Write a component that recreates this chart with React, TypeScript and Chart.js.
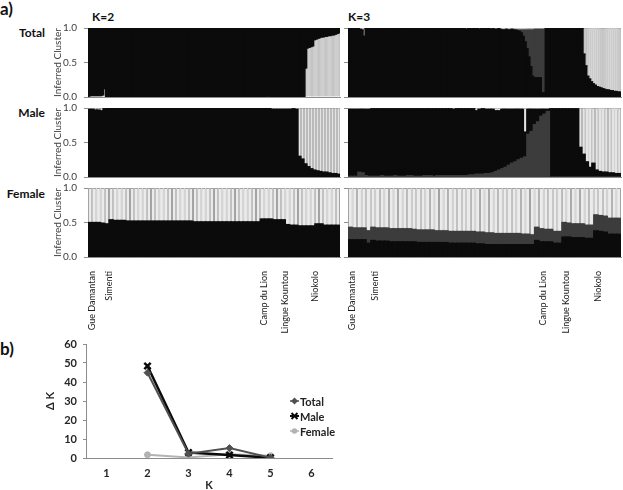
import React, { useEffect, useRef } from 'react';
import { Chart, registerables } from 'chart.js';
Chart.register(...registerables);

const FONT = 'Lato, "Open Sans", sans-serif';

// ---------- Site labels (x axis of the Female panels) ----------
const SITES = ['Gue Damantan', 'Simenti', 'Camp du Lion', 'Lingue Kountou', 'Niokolo'];
const SITE_BARS_K2 = [0, 4, 41, 46, 53];
const SITE_BARS_K3 = [0, 5, 42, 47, 54];

// ---------- STRUCTURE membership values (percent), bottom segments ----------
// Total, K=2 : light cluster (bottom); black on top
const TOTAL_K2_LIGHT = [
  1, 2, 2, 2, 2, 2, 2, 2, 3, 12, 0, 0,
  0, 0, 0, 0, 0, 0, 0, 0, 0, 0, 0, 0,
  0, 0, 0, 0, 0, 0, 0, 0, 0, 0, 0, 0,
  0, 0, 0, 0, 0, 0, 0, 0, 0, 0, 0, 0,
  0, 0, 0, 0, 0, 0, 0, 0, 0, 0, 0, 0,
  0, 0, 0, 0, 0, 0, 0, 0, 0, 0, 0, 0,
  0, 0, 0, 0, 0, 0, 0, 0, 0, 0, 0, 0,
  0, 0, 0, 0, 0, 0, 0, 0, 0, 0, 0, 0,
  0, 0, 0, 0, 0, 0, 1, 1, 0, 0, 0, 0,
  0, 0, 0, 0, 0, 0, 0, 0, 0, 0, 0, 0,
  0, 0, 0, 0, 42, 71, 72, 73, 74, 83, 84, 85,
  86, 87, 87, 88, 88, 89, 89, 90, 90, 91, 92, 93,
];
// Male, K=2 : black (bottom); light on top
const MALE_K2_BLACK = [
  98, 98, 97, 97, 96, 99, 100, 100, 100, 100, 100, 100,
  100, 100, 100, 100, 100, 100, 100, 100, 100, 100, 100, 100,
  100, 100, 100, 100, 100, 100, 100, 100, 100, 100, 100, 100,
  100, 100, 100, 100, 100, 100, 100, 100, 100, 100, 100, 100,
  100, 100, 100, 100, 100, 100, 100, 100, 100, 100, 100, 100,
  100, 98, 98, 98, 98, 98, 98, 98, 99, 98, 30, 26,
  19, 15, 12, 10, 9, 8, 7, 7, 6, 5, 5, 4,
];
// Female, K=2 : black (bottom); light on top
const FEMALE_K2_BLACK = [
  50, 50, 50, 49, 48, 54, 53, 53, 53, 52, 52, 52,
  52, 52, 52, 52, 52, 52, 52, 52, 52, 52, 52, 52,
  52, 51, 51, 51, 51, 51, 51, 51, 51, 51, 51, 51,
  51, 51, 51, 51, 51, 55, 55, 55, 54, 54, 54, 47,
  46, 46, 45, 45, 45, 45, 48, 48, 46, 46, 46, 46,
];
// Total, K=3 : black (bottom), dark (middle); light on top
const TOTAL_K3_BLACK = [
  99, 99, 99, 99, 99, 99, 98, 97, 88, 99, 99, 99,
  99, 99, 100, 100, 99, 99, 99, 100, 100, 99, 99, 99,
  100, 100, 99, 99, 99, 99, 100, 100, 99, 99, 99, 99,
  99, 100, 100, 99, 99, 99, 99, 99, 100, 100, 99, 99,
  99, 99, 99, 99, 100, 99, 99, 99, 99, 99, 99, 99,
  99, 99, 98, 99, 99, 99, 99, 99, 99, 98, 99, 99,
  99, 99, 99, 98, 99, 98, 98, 99, 98, 97, 97, 98,
  97, 97, 98, 97, 97, 96, 95, 93, 88, 80, 70, 58,
  44, 30, 28, 28, 28, 28, 6, 6, 99, 99, 99, 99,
  99, 99, 99, 99, 99, 99, 99, 99, 100, 100, 100, 100,
  100, 100, 100, 100, 62, 45, 30, 26, 22, 19, 17, 15,
  14, 13, 12, 11, 10, 10, 9, 9, 8, 8, 7, 7,
];
const TOTAL_K3_DARK = [
  0, 0, 0, 0, 0, 0, 0, 0, 0, 0, 0, 0,
  0, 0, 0, 0, 0, 0, 0, 0, 0, 0, 0, 0,
  0, 0, 0, 0, 0, 0, 0, 0, 0, 0, 0, 0,
  0, 0, 0, 0, 0, 0, 0, 0, 0, 0, 0, 0,
  0, 0, 0, 0, 0, 0, 0, 0, 0, 0, 0, 0,
  0, 0, 0, 0, 0, 0, 0, 0, 0, 0, 0, 0,
  0, 0, 0, 0, 0, 0, 0, 0, 0, 0, 0, 0,
  0, 0, 0, 0, 0, 1, 2, 4, 9, 17, 27, 39,
  53, 67, 70, 70, 70, 70, 92, 92, 0, 0, 0, 0,
  0, 0, 0, 0, 0, 0, 0, 0, 0, 0, 0, 0,
  0, 0, 0, 0, 0, 0, 0, 0, 0, 0, 0, 0,
  0, 0, 0, 0, 0, 0, 0, 0, 0, 0, 0, 0,
];
// Male, K=3 : dark (bottom), black (middle); light on top
const MALE_K3_DARK = [
  1, 1, 1, 7, 6, 2, 1, 1, 1, 1, 2, 1,
  1, 1, 2, 1, 1, 1, 2, 2, 1, 1, 1, 2,
  2, 2, 1, 2, 2, 2, 2, 2, 2, 2, 2, 2,
  2, 3, 3, 4, 4, 4, 5, 5, 6, 8, 10, 12,
  14, 17, 20, 22, 25, 27, 29, 62, 66, 76, 80, 88,
  91, 95, 0, 0, 0, 0, 0, 0, 0, 0, 0, 0,
  0, 0, 0, 0, 0, 0, 0, 0, 0, 0, 0, 0,
];
const MALE_K3_BLACK = [
  97, 97, 97, 91, 92, 96, 97, 98, 98, 98, 97, 98,
  98, 98, 97, 98, 98, 98, 97, 97, 98, 98, 98, 97,
  97, 97, 98, 97, 97, 97, 97, 97, 96, 97, 97, 97,
  97, 96, 96, 92, 94, 95, 93, 93, 92, 88, 86, 86,
  84, 81, 78, 76, 73, 71, 36, 36, 32, 22, 18, 10,
  7, 3, 99, 99, 99, 99, 99, 99, 99, 99, 99, 43,
  33, 22, 14, 20, 10, 8, 7, 7, 6, 6, 5, 5,
];
// Female, K=3 : black (bottom), dark (middle); light on top
const FEMALE_K3_BLACK = [
  25, 25, 25, 25, 20, 24, 23, 23, 23, 22, 22, 22,
  22, 22, 22, 21, 21, 21, 21, 21, 21, 21, 20, 20,
  20, 20, 20, 20, 19, 19, 18, 18, 18, 18, 18, 18,
  18, 18, 18, 18, 18, 24, 22, 22, 22, 20, 20, 29,
  29, 28, 28, 28, 27, 27, 38, 37, 36, 33, 33, 33,
];
const FEMALE_K3_DARK = [
  18, 17, 17, 17, 18, 19, 19, 19, 19, 19, 19, 19,
  19, 19, 18, 18, 18, 18, 18, 17, 17, 17, 17, 17,
  17, 17, 17, 17, 17, 17, 17, 17, 16, 16, 16, 16,
  16, 16, 15, 15, 14, 19, 19, 18, 18, 17, 17, 21,
  20, 20, 20, 20, 19, 19, 23, 23, 23, 23, 23, 23,
];

// ---------- Delta K line chart ----------
const K_LABELS = ['1', '2', '3', '4', '5', '6'];
const DK_TOTAL = [null, 44.9, 2.3, 5.2, 0.2, null];
const DK_MALE = [null, 48.4, 2.9, 1.6, 0.1, null];
const DK_FEMALE = [null, 1.7, 0.3, 2.0, 1.2, null];

// ---------- styles ----------
type Seg = { bg: string; border: string; bw: number; inflate: number };
const BLACK: Seg = { bg: '#0b0b0b', border: '#0b0b0b', bw: 0, inflate: 0.6 };
const DARK: Seg = { bg: '#3c3c3c', border: '#3c3c3c', bw: 0, inflate: 0.6 };
const LIGHT_THIN: Seg = { bg: '#d2d2d2', border: '#8e8e8e', bw: 0.6, inflate: 0 };
const LIGHT_MID: Seg = { bg: '#e4e4e4', border: '#9c9c9c', bw: 0.8, inflate: 0 };
const LIGHT_WIDE: Seg = { bg: '#ebebeb', border: '#a3a3a3', bw: 1, inflate: 0 };
const AXIS = '#8c8c8c';

function buildRanges(parts: number[][]): [number, number][][] {
  const n = parts[0].length;
  const out: [number, number][][] = parts.map(() => []);
  out.push([]);
  for (let i = 0; i < n; i++) {
    let cum = 0;
    parts.forEach((arr, k) => {
      const v = arr[i] / 100;
      out[k].push([cum, cum + v]);
      cum += v;
    });
    out[parts.length].push([cum, 1]);
  }
  return out;
}

function buildLabels(n: number, siteBars?: number[]): string[] {
  const labels: string[] = [];
  for (let i = 0; i < n; i++) labels.push('');
  if (siteBars) siteBars.forEach((b, k) => { labels[b] = SITES[k]; });
  return labels;
}

type PanelOpts = {
  parts: number[][];
  colors: Seg[];
  showY: boolean;
  yAxisW: number;
  xAxisH: number;
  padBottom: number;
  siteBars?: number[];
};

function structureConfig(o: PanelOpts): any {
  const ranges = buildRanges(o.parts);
  const n = o.parts[0].length;
  return {
    type: 'bar',
    data: {
      labels: buildLabels(n, o.siteBars),
      datasets: ranges.map((data, k) => ({
        data,
        backgroundColor: o.colors[k].bg,
        borderColor: o.colors[k].border,
        borderWidth: o.colors[k].bw,
        borderSkipped: false,
        grouped: false,
        categoryPercentage: 1,
        barPercentage: 1,
        inflateAmount: o.colors[k].inflate,
        order: o.colors[k].bw > 0 ? 2 : 1,
      })),
    },
    options: {
      animation: false,
      responsive: false,
      maintainAspectRatio: false,
      layout: { padding: { top: 6, right: 2, bottom: o.padBottom, left: 0 } },
      plugins: { legend: { display: false }, tooltip: { enabled: false } },
      scales: {
        x: {
          grid: { display: false },
          border: { display: true, color: AXIS },
          ticks: {
            display: !!o.siteBars,
            autoSkip: false,
            maxRotation: 90,
            minRotation: 90,
            padding: 6,
            labelOffset: 2,
            font: { family: FONT, size: 9 },
            color: '#1a1a1a',
          },
          afterFit: (s: any) => { s.height = o.xAxisH; s.paddingLeft = 0; s.paddingRight = 0; },
        },
        y: {
          min: 0,
          max: 1,
          ticks: {
            stepSize: 0.5,
            display: o.showY,
            padding: 7,
            font: { family: FONT, size: 10 },
            color: '#404040',
            callback: (v: any) => Number(v).toFixed(1),
          },
          grid: { display: true, drawOnChartArea: false, drawTicks: true, tickLength: 4, color: AXIS },
          border: { display: true, color: AXIS },
          title: {
            display: o.showY,
            text: 'Inferred Cluster',
            font: { family: FONT, size: 10 },
            color: '#404040',
            padding: { top: 12, bottom: 0 },
          },
          afterFit: (s: any) => { s.width = o.yAxisW; s.paddingTop = 0; s.paddingBottom = 0; },
        },
      },
    },
  };
}

function lineConfig(): any {
  const tickFont = { family: FONT, size: 11, weight: 'bold' as const };
  return {
    type: 'line',
    data: {
      labels: K_LABELS,
      datasets: [
        {
          label: 'Total', data: DK_TOTAL, borderColor: '#505050', backgroundColor: '#505050',
          borderWidth: 2, pointStyle: 'rectRot', pointRadius: 3.5, pointBorderWidth: 1, spanGaps: false,
        },
        {
          label: 'Male', data: DK_MALE, borderColor: '#0a0a0a', backgroundColor: '#0a0a0a',
          borderWidth: 2.5, pointStyle: 'crossRot', pointRadius: 4.5, pointBorderWidth: 2.5, spanGaps: false,
        },
        {
          label: 'Female', data: DK_FEMALE, borderColor: '#b3b3b3', backgroundColor: '#b3b3b3',
          borderWidth: 2, pointStyle: 'circle', pointRadius: 3, pointBorderWidth: 1, spanGaps: false,
        },
      ],
    },
    options: {
      animation: false,
      responsive: false,
      maintainAspectRatio: false,
      layout: { padding: { top: 10, right: 8, bottom: 0, left: 0 } },
      plugins: { legend: { display: false }, tooltip: { enabled: false } },
      scales: {
        x: {
          offset: true,
          grid: { display: false },
          border: { display: true, color: AXIS },
          ticks: { padding: 1, font: tickFont, color: '#262626' },
          title: { display: true, text: 'K', font: tickFont, color: '#262626', padding: 0 },
          afterFit: (s: any) => { s.height = 34; s.paddingLeft = 0; s.paddingRight = 0; },
        },
        y: {
          min: 0,
          max: 60,
          ticks: { stepSize: 10, padding: 6, font: tickFont, color: '#262626' },
          grid: { display: true, drawOnChartArea: false, tickLength: 3, color: AXIS },
          border: { display: true, color: AXIS },
          title: { display: true, text: 'Δ K', font: tickFont, color: '#262626', padding: { top: 14, bottom: 0 } },
          afterFit: (s: any) => { s.width = 56; s.paddingTop = 0; s.paddingBottom = 0; },
        },
      },
    },
  };
}

function ChartBox(props: { left: number; top: number; width: number; height: number; make: () => any }) {
  const ref = useRef<HTMLCanvasElement>(null);
  useEffect(() => {
    const chart = new Chart(ref.current as HTMLCanvasElement, props.make());
    return () => chart.destroy();
  }, []);
  const { left, top, width, height } = props;
  return (
    <div style={{ position: 'absolute', left, top, width, height }}>
      <canvas ref={ref} width={width} height={height} style={{ width, height, display: 'block' }} />
    </div>
  );
}

const txt = (extra: React.CSSProperties): React.CSSProperties => ({
  position: 'absolute', fontFamily: FONT, lineHeight: 1, color: '#111', whiteSpace: 'nowrap', ...extra,
});

function LegendRow(props: { top: number; label: string; kind: 'total' | 'male' | 'female' }) {
  const { top, label, kind } = props;
  const color = kind === 'total' ? '#505050' : kind === 'male' ? '#0a0a0a' : '#b3b3b3';
  return (
    <div style={{ position: 'absolute', left: 290, top, height: 12, display: 'flex', alignItems: 'center' }}>
      <svg width={9} height={12} style={{ display: 'block' }}>
        <line x1={0} y1={6} x2={9} y2={6} stroke={color} strokeWidth={kind === 'male' ? 2 : 1.5} />
        {kind === 'total' && <polygon points="4.5,2.5 8,6 4.5,9.5 1,6" fill={color} />}
        {kind === 'male' && (
          <g stroke={color} strokeWidth={2}>
            <line x1={1.5} y1={3} x2={7.5} y2={9} />
            <line x1={7.5} y1={3} x2={1.5} y2={9} />
          </g>
        )}
        {kind === 'female' && <circle cx={4.5} cy={6} r={2.8} fill={color} />}
      </svg>
      <span style={{ fontFamily: FONT, fontWeight: 700, fontSize: 11, color: '#222', marginLeft: 1 }}>{label}</span>
    </div>
  );
}

export default function App() {
  const LX = 40, LW = 302, RX = 340, RW = 283;
  const rows = [
    { top: 22, h: 80, xAxisH: 0, padBottom: 5 },
    { top: 102, h: 80, xAxisH: 0, padBottom: 5 },
    { top: 182, h: 158, xAxisH: 83, padBottom: 0 },
  ];
  return (
    <div style={{ position: 'fixed', left: 0, top: 0, width: 623, height: 490, overflow: 'hidden', background: '#fff' }}>
      <div style={txt({ left: 0, top: 0, fontSize: 17, fontWeight: 700 })}>a)</div>
      <div style={txt({ left: 0, top: 340, fontSize: 17, fontWeight: 700 })}>b)</div>
      <div style={txt({ left: 92, top: 11, fontSize: 12, fontWeight: 700 })}>K=2</div>
      <div style={txt({ left: 348, top: 11, fontSize: 12, fontWeight: 700 })}>K=3</div>
      <div style={txt({ left: 0, width: 45, textAlign: 'right', top: 27, fontSize: 12, fontWeight: 700 })}>Total</div>
      <div style={txt({ left: 0, width: 45, textAlign: 'right', top: 107, fontSize: 12, fontWeight: 700 })}>Male</div>
      <div style={txt({ left: 0, width: 45, textAlign: 'right', top: 188, fontSize: 12, fontWeight: 700 })}>Female</div>

      <ChartBox left={LX} top={rows[0].top} width={LW} height={rows[0].h} make={() => structureConfig({
        parts: [TOTAL_K2_LIGHT], colors: [LIGHT_THIN, BLACK], showY: true, yAxisW: 48,
        xAxisH: rows[0].xAxisH, padBottom: rows[0].padBottom })} />
      <ChartBox left={RX} top={rows[0].top} width={RW} height={rows[0].h} make={() => structureConfig({
        parts: [TOTAL_K3_BLACK, TOTAL_K3_DARK], colors: [BLACK, DARK, LIGHT_THIN], showY: false, yAxisW: 8,
        xAxisH: rows[0].xAxisH, padBottom: rows[0].padBottom })} />

      <ChartBox left={LX} top={rows[1].top} width={LW} height={rows[1].h} make={() => structureConfig({
        parts: [MALE_K2_BLACK], colors: [BLACK, LIGHT_MID], showY: true, yAxisW: 48,
        xAxisH: rows[1].xAxisH, padBottom: rows[1].padBottom })} />
      <ChartBox left={RX} top={rows[1].top} width={RW} height={rows[1].h} make={() => structureConfig({
        parts: [MALE_K3_DARK, MALE_K3_BLACK], colors: [DARK, BLACK, LIGHT_MID], showY: false, yAxisW: 8,
        xAxisH: rows[1].xAxisH, padBottom: rows[1].padBottom })} />

      <ChartBox left={LX} top={rows[2].top} width={LW} height={rows[2].h} make={() => structureConfig({
        parts: [FEMALE_K2_BLACK], colors: [BLACK, LIGHT_WIDE], showY: true, yAxisW: 48,
        xAxisH: rows[2].xAxisH, padBottom: rows[2].padBottom, siteBars: SITE_BARS_K2 })} />
      <ChartBox left={RX} top={rows[2].top} width={RW} height={rows[2].h} make={() => structureConfig({
        parts: [FEMALE_K3_BLACK, FEMALE_K3_DARK], colors: [BLACK, DARK, LIGHT_WIDE], showY: false, yAxisW: 8,
        xAxisH: rows[2].xAxisH, padBottom: rows[2].padBottom, siteBars: SITE_BARS_K3 })} />

      <ChartBox left={30} top={334} width={310} height={158} make={lineConfig} />

      <LegendRow top={395} label="Total" kind="total" />
      <LegendRow top={410} label="Male" kind="male" />
      <LegendRow top={425} label="Female" kind="female" />
    </div>
  );
}
